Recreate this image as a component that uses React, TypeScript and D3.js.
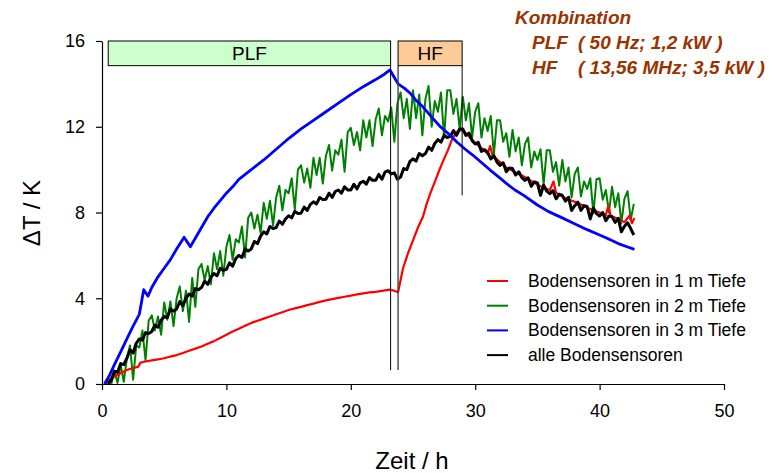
import React, { useEffect, useRef } from 'react';
import * as d3 from 'd3';

const W = 780;
const H = 473;
const FONT = 'Arial, "Liberation Sans", sans-serif';

// ---------- data ----------
const xTicks = [0, 10, 20, 30, 40, 50];
const yTicks = [0, 4, 8, 12, 16];
const xDomain = [0, 50];
const yDomain = [0, 16];

const seriesNames = [
  'Bodensensoren in 1 m Tiefe',
  'Bodensensoren in 2 m Tiefe',
  'Bodensensoren in 3 m Tiefe',
  'alle Bodensensoren',
];

const titleLines = ['Kombination', 'PLF', 'HF'];
const titleDetails = ['', '( 50 Hz; 1,2 kW )', '( 13,56 MHz; 3,5 kW )'];

const phaseLabels = ['PLF', 'HF'];
const phaseStart = [0.5, 23.8];
const phaseEnd = [23.2, 28.95];
const phaseTop = 16;
const phaseBottom = 14.85;
// vertical markers: time, lower end (K)
const markerTimes = [23.2, 23.8, 28.95];
const markerBottoms = [0.65, 0.65, 8.8];

// 3 m depth (blue) [h, K]
const blueData: [number, number][] = [
  [0.2, 0], [0.6, 0.4], [1, 0.9], [1.5, 1.5], [2, 2.1], [2.5, 2.7], [3, 3.25], [3.2, 3.9], [3.35, 4.4],
  [3.7, 4.1], [4, 4.5], [4.5, 5.0], [5, 5.4], [5.5, 5.8], [6, 6.3], [6.6, 6.85], [7.1, 6.4], [7.5, 6.8],
  [8, 7.3], [8.5, 7.8], [9, 8.2], [9.5, 8.55], [10, 8.9], [10.5, 9.2], [11, 9.55], [12, 10.0], [13, 10.45],
  [14, 10.95], [15, 11.45], [16, 11.9], [17, 12.3], [18, 12.7], [19, 13.1], [20, 13.5], [21, 13.87],
  [22, 14.2], [22.7, 14.45], [23.15, 14.65], [23.5, 14.3], [23.8, 14.0], [24.3, 13.8], [24.8, 13.55],
  [25.3, 13.2], [25.8, 12.93], [26.5, 12.45], [27.2, 12.0], [28, 11.6], [28.5, 11.3], [29.2, 10.95],
  [29.8, 10.68], [30.5, 10.33], [31.2, 9.98], [32, 9.6], [32.5, 9.36], [33.2, 9.05], [33.9, 8.8],
  [35, 8.35], [35.9, 8.04], [37, 7.75], [37.9, 7.5], [39, 7.2], [40, 6.95], [40.6, 6.8], [41.5, 6.55],
  [42.2, 6.4], [42.8, 6.28],
];

// 1 m depth (red) [h, K]
const redData: [number, number][] = [
  [0.3, 0], [0.6, 0.2], [1, 0.35], [1.5, 0.5], [2, 0.65], [2.5, 0.75], [2.9, 0.8], [3.1, 1.0], [3.5, 1.05],
  [4, 1.1], [4.5, 1.15], [5, 1.2], [5.5, 1.28], [6, 1.35], [6.5, 1.45], [7, 1.55], [7.5, 1.65], [8, 1.75],
  [8.5, 1.88], [9, 2.0], [9.5, 2.15], [10, 2.3], [10.5, 2.45], [11, 2.58], [11.5, 2.72], [12, 2.85],
  [12.5, 2.95], [13, 3.05], [13.5, 3.15], [14, 3.25], [14.5, 3.35], [15, 3.45], [15.5, 3.53], [16, 3.6],
  [16.5, 3.68], [17, 3.75], [17.5, 3.83], [18, 3.9], [18.5, 3.96], [19, 4.02], [19.5, 4.07], [20, 4.12],
  [20.5, 4.18], [21, 4.23], [21.5, 4.27], [22, 4.3], [22.5, 4.34], [23.15, 4.4], [23.5, 4.35], [23.8, 4.28],
  [24.2, 5.4], [24.6, 6.1], [25, 6.7], [25.4, 7.3], [25.8, 7.8], [26.1, 8.4], [26.4, 8.9], [26.8, 9.5],
  [27.2, 10.1], [27.5, 10.5], [27.8, 10.9], [28.2, 11.5], [28.6, 11.8], [29, 11.85], [29.5, 11.55],
  [30, 11.25], [30.5, 11.0], [31, 10.75], [31.2, 11.1], [31.4, 10.65], [32, 10.35], [32.5, 10.1],
  [33, 9.95], [33.5, 9.78], [34, 9.65], [34.5, 9.47], [35, 9.3], [35.5, 9.15], [36, 9.05], [36.3, 9.45],
  [36.5, 8.92], [37, 8.75], [37.5, 8.6], [38, 8.5], [38.5, 8.37], [39, 8.22], [39.5, 8.1], [40, 8.0],
  [40.5, 7.88], [40.7, 8.3], [40.9, 7.85], [41.5, 7.7], [42, 7.55], [42.4, 7.85], [42.6, 7.5], [42.8, 7.75],
];

// 2 m depth (green), sampled every 0.25 h from 0.75 h
const greenStart = 0.75;
const greenStep = 0.25;
const greenValues = [
  0.0,
  0.6, 0.05, 0.9, 0.1,
  1.2, 1.8, 0.2, 1.8,
  1.7, 2.5, 1.1, 2.95,
  3.2, 2.5, 3.15, 2.3,
  3.8, 3.0, 3.85, 2.7,
  4.0, 4.55, 3.4, 4.35,
  2.9, 4.95, 3.6, 5.35,
  5.6, 4.85, 5.5, 4.65,
  6.1, 5.35, 6.2, 5.05,
  6.4, 6.95, 5.8, 6.75,
  6.6, 7.35, 5.9, 7.75,
  8.0, 7.25, 7.9, 7.05,
  8.45, 7.7, 8.55, 7.4,
  8.7, 9.25, 8.1, 9.05,
  8.9, 9.6, 8.15, 10.0,
  10.2, 9.4, 10.05, 9.15,
  10.55, 9.75, 10.55, 9.35,
  10.65, 11.15, 9.95, 10.9,
  10.7, 11.4, 9.9, 11.75,
  11.95, 11.15, 11.75, 10.9,
  12.3, 11.5, 12.3, 11.1,
  12.35, 12.85, 11.6, 12.5,
  12.25, 12.9, 11.3, 13.1,
  13.6, 12.4, 13.3, 11.9,
  13.7, 12.4, 13.5, 11.6,
  13.3, 13.9, 12.0, 13.2,
  12.7, 13.6, 11.5, 13.7,
  13.7, 12.6, 13.3, 11.9,
  13.4, 12.3, 13.1, 11.5,
  12.7, 13.1, 11.5, 12.4,
  11.8, 12.5, 10.7, 12.3,
  12.3, 11.3, 11.7, 10.6,
  11.85, 10.85, 11.5, 10.2,
  11.2, 11.5, 10.1, 10.85,
  10.45, 10.95, 9.3, 10.9,
  10.9, 9.9, 10.35, 9.25,
  10.45, 9.45, 10.1, 8.7,
  9.8, 10.1, 8.75, 9.45,
  9.1, 9.6, 7.95, 9.55,
  9.6, 8.6, 9.05, 8.0,
  9.2, 8.25, 8.9, 7.5,
  8.65, 9.0, 7.65, 8.4,
];

// all sensors (black), sampled every 0.25 h from 0.5 h
const blackStart = 0.5;
const blackStep = 0.25;
const blackValues = [
  0.0, 0.2,
  0.6, 0.55, 0.95, 0.9,
  1.2, 1.6, 1.45, 1.9,
  2.1, 2.05, 2.4, 2.35,
  2.45, 2.75, 2.65, 2.98,
  3.15, 3.1, 3.5, 3.4,
  3.5, 3.85, 3.65, 4.0,
  4.2, 4.1, 4.45, 4.4,
  4.5, 4.8, 4.65, 4.98,
  5.15, 5.05, 5.4, 5.3,
  5.35, 5.65, 5.5, 5.85,
  6.0, 5.9, 6.3, 6.2,
  6.3, 6.65, 6.55, 6.9,
  7.1, 7.0, 7.35, 7.25,
  7.3, 7.6, 7.45, 7.7,
  7.85, 7.75, 8.05, 7.95,
  7.97, 8.25, 8.1, 8.38,
  8.5, 8.4, 8.7, 8.6,
  8.62, 8.9, 8.7, 8.98,
  9.05, 8.9, 9.2, 9.05,
  9.05, 9.32, 9.1, 9.38,
  9.46, 9.32, 9.63, 9.5,
  9.5, 9.78, 9.55, 9.88,
  9.95, 9.8, 9.85, 9.55,
  9.65, 10.05, 10.0, 10.38,
  10.5, 10.4, 10.75, 10.65,
  10.75, 11.05, 10.9, 11.22,
  11.4, 11.28, 11.6, 11.5,
  11.55, 11.82, 11.6, 11.9,
  11.9, 11.6, 11.7, 11.35,
  11.2, 11.27, 10.85, 10.93,
  10.8, 10.5, 10.65, 10.35,
  10.2, 10.32, 9.9, 10.08,
  10.05, 9.75, 9.9, 9.63,
  9.5, 9.62, 9.22, 9.43,
  9.38, 8.8, 9.27, 9.0,
  8.88, 9.02, 8.64, 8.85,
  8.8, 8.53, 8.71, 8.1,
  8.32, 8.48, 8.1, 8.32,
  8.28, 7.7, 8.21, 7.95,
  7.84, 8.0, 7.62, 7.84,
  7.8, 7.54, 7.73, 7.1,
  7.36, 7.52, 7.25, 6.95,
];

// ---------- styles ----------
const COLORS = ['#ff0000', '#008000', '#0000ff', '#000000'];
const WIDTHS = [2.2, 2.0, 2.8, 3.0];
const PHASE_FILLS = ['#ccffcc', '#ffcc99'];
const TITLE_COLOR = '#993300';

export default function App() {
  const xAxisRef = useRef<SVGGElement>(null);
  const yAxisRef = useRef<SVGGElement>(null);

  const x = d3.scaleLinear().domain(xDomain).range([102, 724]);
  const y = d3.scaleLinear().domain(yDomain).range([384, 41]);

  const line = d3
    .line<[number, number]>()
    .x((d) => x(d[0]))
    .y((d) => y(d[1]));

  const greenData: [number, number][] = greenValues.map((v, i) => [greenStart + i * greenStep, v]);
  const blackData: [number, number][] = blackValues.map((v, i) => [blackStart + i * blackStep, v]);

  useEffect(() => {
    const gx = d3.select(xAxisRef.current!);
    gx.call(
      d3.axisBottom(x).tickValues(xTicks).tickSize(6).tickSizeOuter(0).tickPadding(14).tickFormat(d3.format('d'))
    );
    gx.attr('font-family', FONT).attr('font-size', 18);
    gx.select('.domain').attr('stroke', '#000').attr('stroke-width', 1.2);
    gx.selectAll('.tick line').attr('stroke', '#000').attr('stroke-width', 1.2);
    gx.selectAll('.tick text').attr('fill', '#000');

    const gy = d3.select(yAxisRef.current!);
    gy.call(
      d3.axisLeft(y).tickValues(yTicks).tickSize(6).tickSizeOuter(0).tickPadding(11).tickFormat(d3.format('d'))
    );
    gy.attr('font-family', FONT).attr('font-size', 18);
    gy.select('.domain').attr('stroke', '#000').attr('stroke-width', 1.2);
    gy.selectAll('.tick line').attr('stroke', '#000').attr('stroke-width', 1.2);
    gy.selectAll('.tick text').attr('fill', '#000');
  }, []);

  const drawOrder = [1, 0, 3, 2];
  const dataByIndex = [redData, greenData, blueData, blackData];

  return (
    <svg
      width={W}
      height={H}
      viewBox={`0 0 ${W} ${H}`}
      style={{ position: 'absolute', left: 0, top: 0, background: '#fff' }}
      fontFamily={FONT}
    >
      <rect x={0} y={0} width={W} height={H} fill="#fff" />

      {/* series */}
      {drawOrder.map((i) => (
        <path
          key={`s${i}`}
          d={line(dataByIndex[i]) || ''}
          fill="none"
          stroke={COLORS[i]}
          strokeWidth={WIDTHS[i]}
          strokeLinejoin="round"
        />
      ))}

      {/* phase boxes */}
      {phaseLabels.map((lab, i) => (
        <g key={lab}>
          <rect
            x={x(phaseStart[i])}
            y={y(phaseTop)}
            width={x(phaseEnd[i]) - x(phaseStart[i])}
            height={y(phaseBottom) - y(phaseTop)}
            fill={PHASE_FILLS[i]}
            stroke="#000"
            strokeWidth={1}
          />
          <text
            x={(x(phaseStart[i]) + x(phaseEnd[i])) / 2}
            y={(y(phaseTop) + y(phaseBottom)) / 2}
            textAnchor="middle"
            dominantBaseline="central"
            fontSize={19}
            fill="#000"
          >
            {lab}
          </text>
        </g>
      ))}

      {/* vertical markers */}
      {markerTimes.map((t, i) => (
        <line
          key={`m${i}`}
          x1={x(t)}
          x2={x(t)}
          y1={y(phaseBottom)}
          y2={y(markerBottoms[i])}
          stroke={i === 1 ? '#444' : '#000'}
          strokeWidth={i === 1 ? 1.4 : 1}
        />
      ))}

      <g ref={xAxisRef} transform="translate(0,384)" />
      <g ref={yAxisRef} transform="translate(102,0)" />

      {/* axis titles */}
      <text x={412} y={469} textAnchor="middle" fontSize={24} fill="#000">
        Zeit / h
      </text>
      <text transform="translate(40,213) rotate(-90)" textAnchor="middle" fontSize={24} fill="#000">
        ΔT / K
      </text>

      {/* legend */}
      {seriesNames.map((name, i) => (
        <g key={name} transform={`translate(0,${281 + i * 24.7})`}>
          <line x1={487} x2={508} y1={0} y2={0} stroke={COLORS[i]} strokeWidth={2} />
          <text x={528} y={0} dominantBaseline="central" fontSize={17.5} fill="#000">
            {name}
          </text>
        </g>
      ))}

      {/* title block */}
      {titleLines.map((t, i) => (
        <g key={`t${i}`} fontWeight="bold" fontStyle="italic" fontSize={19} fill={TITLE_COLOR}>
          <text x={i === 0 ? 515 : 532} y={24 + i * 24.8}>
            {t}
          </text>
          {titleDetails[i] && (
            <text x={578} y={24 + i * 24.8}>
              {titleDetails[i]}
            </text>
          )}
        </g>
      ))}
    </svg>
  );
}
